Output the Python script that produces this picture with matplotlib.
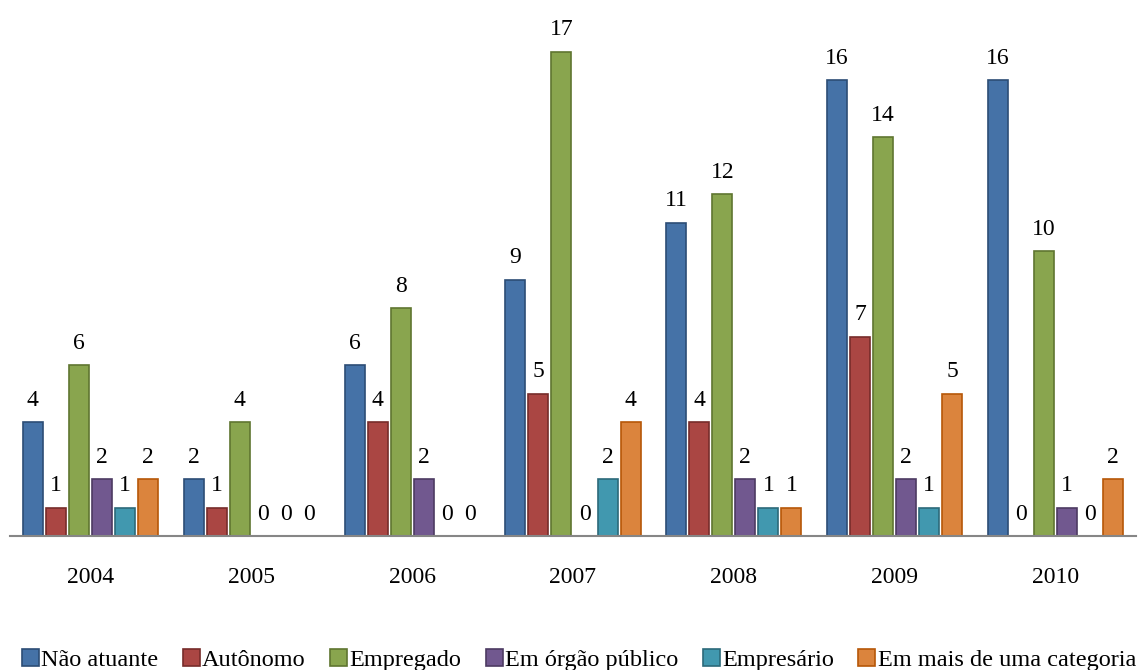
import numpy as np
import matplotlib
matplotlib.use("Agg")
import matplotlib.pyplot as plt
from matplotlib.patches import Patch

plt.rcParams['font.family'] = ['Liberation Serif', 'DejaVu Serif']

years = ['2004', '2005', '2006', '2007', '2008', '2009', '2010']
categorias = ['Não atuante', 'Autônomo', 'Empregado', 'Em órgão público',
              'Empresário', 'Em mais de uma categoria']
nao_atuante = [4, 2, 6, 9, 11, 16, 16]
autonomo = [1, 1, 4, 5, 4, 7, 0]
empregado = [6, 4, 8, 17, 12, 14, 10]
orgao_publico = [2, 0, 2, 0, 2, 2, 1]
empresario = [1, 0, 0, 2, 1, 1, 0]
mais_de_uma = [2, 0, 0, 4, 1, 5, 2]

series = [nao_atuante, autonomo, empregado, orgao_publico, empresario, mais_de_uma]
faces = ['#4572A7', '#AA4643', '#89A54E', '#71588F', '#4198AF', '#DB843D']
edges = ['#2C4D75', '#772C2A', '#5F7530', '#4D3B62', '#2C6A7A', '#B65708']

fig = plt.figure(figsize=(11.44, 6.70), dpi=100)
ax = fig.add_axes([10 / 1144, 0.2, 1126 / 1144, 0.8])

x = np.arange(len(years)) + 0.5
slot = 23 / 160.8
width = 20 / 160.8

for i, (vals, fc, ec) in enumerate(zip(series, faces, edges)):
    pos = x + (i - 2.5) * slot
    bars = ax.bar(pos, vals, width, color=fc, edgecolor=ec, linewidth=1.2,
                  label=categorias[i])
    for b, v in zip(bars, vals):
        ax.annotate(str(v), (b.get_x() + b.get_width() / 2, v),
                    xytext=(0, 8), textcoords='offset points',
                    ha='center', va='bottom', fontsize=17)

ax.set_xlim(0, 7)
ax.set_ylim(0, 536 / 28.5)
for s in ['top', 'right', 'left']:
    ax.spines[s].set_visible(False)
ax.spines['bottom'].set_color('#868686')
ax.spines['bottom'].set_linewidth(1.5)
ax.set_yticks([])
ax.set_xticks(x)
ax.set_xticklabels(years, fontsize=17)
ax.tick_params(axis='x', length=0, pad=22)

handles = [Patch(facecolor=fc, edgecolor=ec, linewidth=1.2) for fc, ec in zip(faces, edges)]
fig.legend(handles, categorias, loc='lower center', bbox_to_anchor=(0.506, -0.034),
           ncol=6, frameon=False, fontsize=17.5, handlelength=0.7, handleheight=0.7,
           handletextpad=0.1, columnspacing=1.0)

fig.savefig('out.png', dpi=100)
